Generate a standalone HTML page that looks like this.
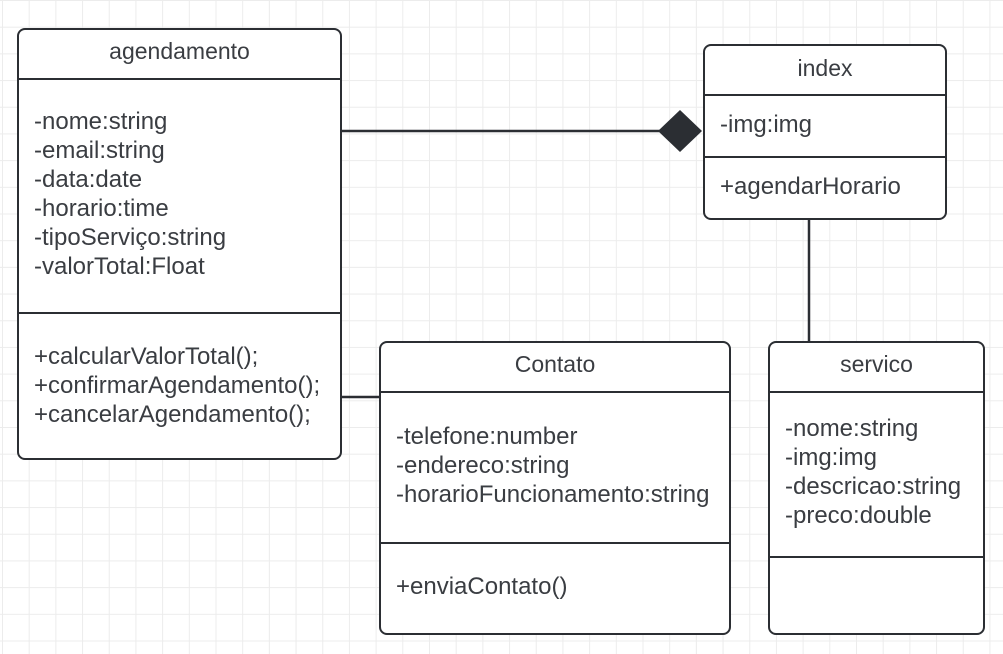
<!DOCTYPE html><html><head><style>
body{margin:0;width:1003px;height:654px;overflow:hidden;background:#fff;
background-image:linear-gradient(#ececec 1px,transparent 1px),linear-gradient(90deg,#ececec 1px,transparent 1px);
background-size:26.7px 26.7px;background-position:2px 0px;font-family:"Liberation Sans",sans-serif;color:#3a3d42;}
.b{position:absolute;border:2.5px solid #2b2e33;border-radius:8px;background:#fff;box-sizing:border-box}
.h{position:absolute;left:0;right:0;text-align:center;font-size:23px}
.d{position:absolute;left:0;right:0;border-top:2.5px solid #2b2e33}
.t{position:absolute;left:15px;font-size:24px;line-height:29px;white-space:pre}
</style></head><body>
<svg width="1003" height="654" style="position:absolute;left:0;top:0">
<line x1="340" y1="131" x2="660" y2="131" stroke="#2b2e33" stroke-width="2.5"/>
<polygon points="658,131 680,110 702,131 680,152" fill="#2b2e33"/>
<line x1="809" y1="218" x2="809" y2="342" stroke="#2b2e33" stroke-width="2.5"/>
<line x1="340" y1="397" x2="380" y2="397" stroke="#2b2e33" stroke-width="2.5"/>
</svg>
<div class="b" style="left:17px;top:28px;width:325px;height:432px">
<div class="h" style="top:8px">agendamento</div><div class="d" style="top:48px"></div>
<div class="t" style="top:77px">-nome:string
-email:string
-data:date
-horario:time
-tipoServiço:string
-valorTotal:Float</div>
<div class="d" style="top:282px"></div>
<div class="t" style="top:312px">+calcularValorTotal();
+confirmarAgendamento();
+cancelarAgendamento();</div></div>
<div class="b" style="left:703px;top:44px;width:244px;height:176px">
<div class="h" style="top:9px">index</div><div class="d" style="top:48px"></div>
<div class="t" style="top:64px">-img:img</div>
<div class="d" style="top:110px"></div>
<div class="t" style="top:126px">+agendarHorario</div></div>
<div class="b" style="left:379px;top:341px;width:352px;height:294px">
<div class="h" style="top:8px">Contato</div><div class="d" style="top:48px"></div>
<div class="t" style="top:79px">-telefone:number
-endereco:string
-horarioFuncionamento:string</div>
<div class="d" style="top:199px"></div>
<div class="t" style="top:229px">+enviaContato()</div></div>
<div class="b" style="left:768px;top:341px;width:217px;height:294px">
<div class="h" style="top:8px">servico</div><div class="d" style="top:48px"></div>
<div class="t" style="top:71px">-nome:string
-img:img
-descricao:string
-preco:double</div>
<div class="d" style="top:213px"></div></div>
</body></html>
